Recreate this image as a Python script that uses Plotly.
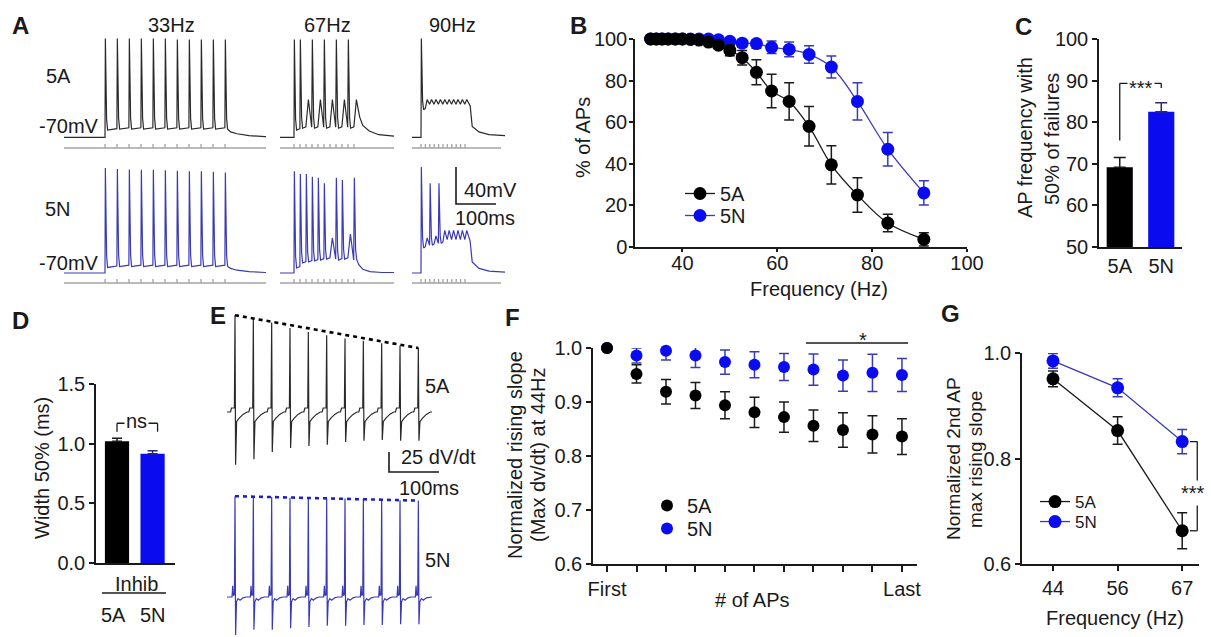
import plotly.graph_objects as go

W, H = 1211, 637
FONT = "Arial, Liberation Sans, sans-serif"
INK = "#1a1a1a"
BLUE = "#0b0bf0"
BLUE_LINE = "#3a3ab8"
TRACE_BLACK = "#2a2a2a"
TRACE_BLUE = "#3a3ab6"
STIM_GRAY = "#a3a3a3"

# ---------------- data ----------------
groups = ["5A", "5N"]

# A: example traces (mV above rest for each stimulus pulse)
a33_5a_peaks = [107, 107, 107, 107, 107, 107, 106, 106, 106, 106, 106]
a33_5a_troughs = [8, 9, 9, 9, 9, 9, 9, 9, 9, 9, 9]
a33_5n_peaks = [113.5, 112.5, 112, 111.5, 111.5, 111, 110.5, 110, 110, 109.5, 108.5]
a33_5n_troughs = [6, 7, 7, 7, 7, 7, 7, 7, 7, 7, 7]
a67_5a_peaks = [106, 106, 41, 106, 41, 106, 41, 106, 41, 106, 41]
a67_5a_troughs = [8, 10, 11, 10, 11, 10, 11, 10, 11, 10, 22]
a67_5n_peaks = [110, 107, 107, 104, 103, 97, 38, 103, 100.5, 42, 103]
a67_5n_troughs = [5.4, 10.8, 11.9, 13, 14, 15, 15, 14, 15, 14, 15]
a90_5a_peaks = [107, 41, 41, 41, 41, 41, 41, 41, 41, 41, 41]
a90_5a_troughs = [30, 36, 36, 36, 36, 36, 36, 36, 36, 36, 36]
a90_5n_peaks = [114.6, 38, 97, 40, 97, 46, 46, 46, 46, 46, 46]
a90_5n_troughs = [27, 30, 30, 32, 32, 36, 36, 36, 36, 36, 36]

# B: % of APs vs stimulation frequency
b_freq = [33.3, 34.5, 35.7, 37.0, 38.5, 40.0, 41.7, 43.5, 45.5, 47.6,
          50.0, 52.6, 55.6, 58.8, 62.5, 66.7, 71.4, 76.9, 83.3, 90.9]
b_5a = [100, 100, 100, 100, 100, 100, 99.8, 99.5, 98.5, 97,
        94.5, 91, 84, 75, 70, 58, 39.5, 25, 11.5, 3.7]
b_5a_err = [0, 0, 0, 0, 0, 0, 0.3, 0.5, 1, 1.5,
            2.5, 3.5, 6, 8, 9, 9.5, 9.2, 8.3, 4.2, 3.2]
b_5n = [100, 100, 100, 100, 100, 100, 100, 100, 100, 99.6,
        98.9, 98, 97.8, 96, 95, 92.6, 86.5, 70, 47, 26]
b_5n_err = [0, 0, 0, 0, 0, 0, 0, 0, 0, 0.8,
            1.2, 2, 2.2, 3, 3.5, 4.2, 5.3, 9, 8, 5.8]

# C: AP frequency with 50% failures
c_vals = [69.2, 82.5]
c_err = [2.3, 2.2]

# D: AP width at 50%
d_vals = [1.02, 0.915]
d_err = [0.025, 0.025]

# E: dV/dt traces (peak / trough per AP)
e_5a_peaks = [121, 116, 112, 105, 100, 96, 92, 89, 86, 83, 80]
e_5a_troughs = [-66, -59, -50, -45, -42.5, -41, -37.5, -36, -35, -36, -36]
e_5n_peaks = [126, 125, 125, 124, 124, 123, 123, 122.5, 122, 121, 120.5]
e_5n_troughs = [-47.5, -41, -41, -39, -37.5, -36, -36, -35, -35, -34, -34]

# F: normalized rising slope per AP
f_ap = [1, 2, 3, 4, 5, 6, 7, 8, 9, 10, 11]
f_ticktext = ["First", "", "", "", "", "", "", "", "", "", "Last"]
f_5a = [1.0, 0.952, 0.919, 0.912, 0.894, 0.881, 0.872, 0.856, 0.848, 0.840, 0.836]
f_5a_err = [0, 0.017, 0.0225, 0.024, 0.025, 0.028, 0.028, 0.029, 0.032, 0.0345, 0.033]
f_5n = [1.0, 0.986, 0.995, 0.986, 0.974, 0.969, 0.965, 0.960, 0.949, 0.954, 0.950]
f_5n_err = [0, 0.014, 0.017, 0.022, 0.0225, 0.024, 0.025, 0.029, 0.029, 0.0345, 0.0305]

# G: normalized 2nd AP max rising slope
g_freq = ["44", "56", "67"]
g_5a = [0.951, 0.853, 0.663]
g_5a_err = [0.015, 0.026, 0.034]
g_5n = [0.985, 0.934, 0.832]
g_5n_err = [0.014, 0.017, 0.023]


# ---------------- helpers ----------------
def vm_wave(onset, period, peaks, troughs, tail_t, tail_v, dur):
    t = [0.0, onset]
    v = [0.0, 0.0]
    n = len(peaks)
    for i in range(n):
        ti = onset + i * period
        pk, tr = peaks[i], troughs[i]
        if pk >= 60:
            t += [ti + 0.9, ti + 2.2, ti + 4.0, ti + 6.5]
            v += [pk, tr + 0.45 * (pk - tr), tr + 0.12 * (pk - tr), tr]
            if i < n - 1:
                t.append(ti + period - 0.3)
                v.append(tr + 1.5)
        else:
            t += [ti + 0.4 * period, ti + 0.95 * period]
            v += [pk, tr]
    last = onset + (n - 1) * period
    t += [last + x for x in tail_t]
    v += list(tail_v)
    t.append(dur)
    v.append(tail_v[-1])
    return t, v


def dvdt_wave(first, period, peaks, troughs, kind, dur):
    t = [0.0]
    v = [0.0]
    for i in range(len(peaks)):
        ti = first + i * period
        if kind == "A":
            pre = [(-9, 0), (-7, 5), (-1.2, 5)]
            post = [(1.2, troughs[i]), (3.2, -12), (8, -8), (16, -3), (24, 0)]
        else:
            pre = [(-6, 0), (-4.6, 14), (-3.4, 2), (-1.2, 3)]
            post = [(1.2, troughs[i]), (3, -6), (6, -2), (10, -4), (16, -1), (22, 0)]
        for dt, vv in pre:
            t.append(ti + dt); v.append(vv)
        t.append(ti); v.append(peaks[i])
        for dt, vv in post:
            t.append(ti + dt); v.append(vv)
    t.append(dur); v.append(0)
    return t, v


def ann(text, xpx, ypx, size=20, bold=False, angle=0, xanchor="center", color=INK, bg=None):
    d = dict(text=f"<b>{text}</b>" if bold else text, x=xpx / W, y=1 - ypx / H,
             xref="paper", yref="paper", showarrow=False, textangle=angle,
             font=dict(size=size, family=FONT, color=color),
             xanchor=xanchor, yanchor="middle")
    if bg:
        d["bgcolor"] = bg
    return d


fig = go.Figure()

# ---------------- Panel A traces ----------------
A_ROWS = {"5A": (170.3, 158.9, TRACE_BLACK), "5N": (23.8, 13.0, TRACE_BLUE)}
a_specs = [
    ("5A", 22.5, 102.5, 30, a33_5a_peaks, a33_5a_troughs, [14, 30, 60, 100], [6, 4, 2, 1], 505),
    ("5N", 22.5, 102.5, 30, a33_5n_peaks, a33_5n_troughs, [14, 30, 60, 100], [5, 3, 1.5, 0.5], 505),
    ("5A", 562.5, 35, 15, a67_5a_peaks, a67_5a_troughs, [22, 38, 62, 95], [13, 7, 3, 1.5], 285),
    ("5N", 562.5, 35, 15, a67_5n_peaks, a67_5n_troughs, [12, 22, 40, 70], [9, 4, 1.5, 0.5], 285),
    ("5A", 892.5, 22.5, 11, a90_5a_peaks, a90_5a_troughs, [13, 18, 35, 60, 100], [34, 12, 6, 3, 2], 222.5),
    ("5N", 892.5, 22.5, 11, a90_5n_peaks, a90_5n_troughs, [13, 18, 35, 60, 100], [34, 12, 5, 2, 1], 222.5),
]
for row, t0, onset, period, pk, tr, tt, tv, dur in a_specs:
    base, stim, col = A_ROWS[row]
    t, v = vm_wave(onset, period, pk, tr, tt, tv, dur)
    fig.add_trace(go.Scatter(x=[t0 + x for x in t], y=[base + y for y in v], mode="lines",
                             line=dict(color=col, width=1.2), xaxis="x", yaxis="y",
                             showlegend=False, hoverinfo="skip"))
    sx = [t0, t0 + dur, None]
    sy = [stim, stim, None]
    for i in range(len(pk)):
        ti = t0 + onset + i * period
        sx += [ti, ti, None]
        sy += [stim, stim + 4.3, None]
    fig.add_trace(go.Scatter(x=sx, y=sy, mode="lines", line=dict(color=STIM_GRAY, width=1.3),
                             xaxis="x", yaxis="y", showlegend=False, hoverinfo="skip"))
fig.add_trace(go.Scatter(x=[1002.5, 1002.5, 1102.5], y=[138.4, 98.4, 98.4], mode="lines",
                         line=dict(color=INK, width=1.6), xaxis="x", yaxis="y",
                         showlegend=False, hoverinfo="skip"))

# ---------------- Panel B ----------------
fig.add_trace(go.Scatter(x=b_freq, y=b_5n, name="5N", mode="lines+markers",
                         line=dict(color=BLUE_LINE, width=1.3, shape="spline", smoothing=1.0),
                         marker=dict(color=BLUE, size=13),
                         error_y=dict(type="data", array=b_5n_err, color=BLUE_LINE, thickness=1.5, width=5),
                         xaxis="x2", yaxis="y2", cliponaxis=False, legend="legend2"))
fig.add_trace(go.Scatter(x=b_freq, y=b_5a, name="5A", mode="lines+markers",
                         line=dict(color=INK, width=1.3, shape="spline", smoothing=1.0),
                         marker=dict(color="#000000", size=13),
                         error_y=dict(type="data", array=b_5a_err, color=INK, thickness=1.5, width=5),
                         xaxis="x2", yaxis="y2", cliponaxis=False, legend="legend"))

# ---------------- Panel C ----------------
fig.add_trace(go.Bar(x=[0], y=[c_vals[0]], width=0.63, marker=dict(color="#000000", line=dict(width=0)),
                     error_y=dict(type="data", array=[c_err[0]], arrayminus=[0], symmetric=False,
                                  color=INK, thickness=1.5, width=6),
                     xaxis="x3", yaxis="y3", showlegend=False))
fig.add_trace(go.Bar(x=[1], y=[c_vals[1]], width=0.63, marker=dict(color=BLUE, line=dict(width=0)),
                     error_y=dict(type="data", array=[c_err[1]], arrayminus=[0], symmetric=False,
                                  color="#2a2a6a", thickness=1.5, width=6),
                     xaxis="x3", yaxis="y3", showlegend=False))

# ---------------- Panel D ----------------
fig.add_trace(go.Bar(x=[0], y=[d_vals[0]], width=0.68, marker=dict(color="#000000", line=dict(width=0)),
                     error_y=dict(type="data", array=[d_err[0]], arrayminus=[0], symmetric=False,
                                  color=INK, thickness=1.5, width=5),
                     xaxis="x4", yaxis="y4", showlegend=False))
fig.add_trace(go.Bar(x=[1], y=[d_vals[1]], width=0.68, marker=dict(color=BLUE, line=dict(width=0)),
                     error_y=dict(type="data", array=[d_err[1]], arrayminus=[0], symmetric=False,
                                  color="#2a2a6a", thickness=1.5, width=5),
                     xaxis="x4", yaxis="y4", showlegend=False))

# ---------------- Panel E ----------------
E_PERIOD = 36.67
for kind, base, pk, tr, col in [("A", 281.25, e_5a_peaks, e_5a_troughs, TRACE_BLACK),
                                ("N", 50.0, e_5n_peaks, e_5n_troughs, TRACE_BLUE)]:
    t, v = dvdt_wave(16, E_PERIOD, pk, tr, kind, 410)
    fig.add_trace(go.Scatter(x=[14 + x for x in t], y=[base + y for y in v], mode="lines",
                             line=dict(color=col, width=1.2), xaxis="x5", yaxis="y5",
                             showlegend=False, hoverinfo="skip"))
    n = len(pk)
    fig.add_trace(go.Scatter(x=[14 + 16, 14 + 16 + (n - 1) * E_PERIOD],
                             y=[base + pk[0], base + pk[-1]], mode="lines",
                             line=dict(color="#000000" if kind == "A" else "#2020c0", width=2.6, dash="4px,4px"),
                             xaxis="x5", yaxis="y5", showlegend=False, hoverinfo="skip"))
fig.add_trace(go.Scatter(x=[338, 338, 438], y=[231.25, 206.25, 206.25], mode="lines",
                         line=dict(color=INK, width=1.6), xaxis="x5", yaxis="y5",
                         showlegend=False, hoverinfo="skip"))

# ---------------- Panel F ----------------
fig.add_trace(go.Scatter(x=f_ap, y=f_5n, name="5N", mode="markers",
                         marker=dict(color=BLUE, size=12),
                         error_y=dict(type="data", array=f_5n_err, color=BLUE_LINE, thickness=1.5, width=5),
                         xaxis="x6", yaxis="y6", cliponaxis=False, legend="legend4"))
fig.add_trace(go.Scatter(x=f_ap, y=f_5a, name="5A", mode="markers",
                         marker=dict(color="#000000", size=12),
                         error_y=dict(type="data", array=f_5a_err, color=INK, thickness=1.5, width=5),
                         xaxis="x6", yaxis="y6", cliponaxis=False, legend="legend3"))

# ---------------- Panel G ----------------
g_x = [0, 1, 2]
fig.add_trace(go.Scatter(x=g_x, y=g_5a, name="5A", mode="lines+markers",
                         line=dict(color=INK, width=1.3), marker=dict(color="#000000", size=13),
                         error_y=dict(type="data", array=g_5a_err, color=INK, thickness=1.5, width=5),
                         xaxis="x7", yaxis="y7", cliponaxis=False, legend="legend5"))
fig.add_trace(go.Scatter(x=g_x, y=g_5n, name="5N", mode="lines+markers",
                         line=dict(color=BLUE_LINE, width=1.3), marker=dict(color=BLUE, size=13),
                         error_y=dict(type="data", array=g_5n_err, color=BLUE_LINE, thickness=1.5, width=5),
                         xaxis="x7", yaxis="y7", cliponaxis=False, legend="legend6"))

# ---------------- layout ----------------
def xd(a, b):
    return [a / W, b / W]


def yd(top, bottom):
    return [1 - bottom / H, 1 - top / H]


ax = dict(showline=True, linecolor=INK, linewidth=1.5, ticks="outside", ticklen=5, tickwidth=1.5,
          tickcolor=INK, showgrid=False, zeroline=False, fixedrange=True, automargin=False,
          tickfont=dict(size=20, color=INK, family=FONT))
hid = dict(visible=False, showgrid=False, zeroline=False, fixedrange=True, automargin=False)

shapes = []
def seg(xref, yref, xs, ys, color=INK, width=1.3):
    for i in range(len(xs) - 1):
        shapes.append(dict(type="line", xref=xref, yref=yref, x0=xs[i], y0=ys[i], x1=xs[i + 1], y1=ys[i + 1],
                           line=dict(color=color, width=width)))

def pseg(xs, ys, width=1.3):
    seg("paper", "paper", [x / W for x in xs], [1 - y / H for y in ys], width=width)

seg("x3", "y3", [0, 0, 1, 1], [75.6, 89.35, 89.35, 88.2])          # C bracket
seg("x4", "y4", [0, 0, 1.14, 1.14], [1.10, 1.171, 1.171, 1.10])     # D bracket
pseg([102, 166], [593, 593])                                         # D "Inhib" underline
pseg([806, 908], [343, 343])                                         # F significance line
seg("x7", "y7", [2.12, 2.233, 2.233, 2.12], [0.832, 0.832, 0.663, 0.663])  # G bracket

annotations = [
    ann("A", 21, 25, 24, True), ann("B", 578, 25, 24, True), ann("C", 1023, 27, 24, True),
    ann("D", 21, 320, 24, True), ann("E", 218, 315, 24, True), ann("F", 512, 317, 24, True),
    ann("G", 950, 313, 24, True),
    ann("33Hz", 171, 25), ann("67Hz", 327, 25), ann("90Hz", 452, 25),
    ann("5A", 58, 76), ann("-70mV", 69, 126), ann("5N", 58, 209), ann("-70mV", 69, 263),
    ann("40mV", 462, 190, xanchor="left"), ann("100ms", 485, 218),
    ann("% of APs", 583, 138, angle=-90), ann("Frequency (Hz)", 819, 289),
    ann("AP frequency with", 1025, 138, angle=-90),
    ann("50% of failures", 1052, 139, angle=-90),
    ann("***", 1141, 88, bg="white"),
    ann("Width 50% (ms)", 42, 468, angle=-90),
    ann("ns", 136, 421, bg="white"),
    ann("Inhib", 136, 584), ann("5A", 113, 615), ann("5N", 153, 615),
    ann("5A", 423, 386, xanchor="left"), ann("5N", 423, 560, xanchor="left"),
    ann("25 dV/dt", 399, 457, xanchor="left"), ann("100ms", 429, 488),
    ann("Normalized rising slope", 515, 455, angle=-90),
    ann("(Max dv/dt) at 44Hz", 538, 455, angle=-90),
    ann("# of APs", 752, 600), ann("*", 863, 340),
    ann("Normalized 2nd AP", 954, 459, size=19, angle=-90),
    ann("max rising slope", 976, 459, size=19, angle=-90),
    ann("Frequency (Hz)", 1115, 618),
    ann("***", 1193, 493, bg="white"),
]

leg = dict(xanchor="left", yanchor="top", bgcolor="rgba(0,0,0,0)", borderwidth=0,
           font=dict(size=20, family=FONT, color=INK), itemwidth=30, tracegroupgap=0)
leg_g = dict(leg, font=dict(size=17, family=FONT, color=INK))

fig.update_layout(
    width=W, height=H, margin=dict(l=0, r=0, t=0, b=0, pad=0, autoexpand=False),
    autosize=False,
    paper_bgcolor="white", plot_bgcolor="white",
    font=dict(family=FONT, size=20, color=INK),
    barmode="overlay", hovermode=False, showlegend=True,
    xaxis=dict(hid, domain=xd(55, 510), range=[0, 1137.5], anchor="y"),
    yaxis=dict(hid, domain=yd(30, 295), range=[0, 286.49], anchor="x"),
    xaxis2=dict(ax, domain=xd(635, 967), range=[30, 100], tickvals=[40, 60, 80, 100], ticklen=3,
                ticklabelstandoff=-6, anchor="y2"),
    yaxis2=dict(ax, domain=yd(39, 247), range=[0, 100], tickvals=[0, 20, 40, 60, 80, 100], ticklen=4,
                ticklabelstandoff=-2, anchor="x2"),
    xaxis3=dict(ax, domain=xd(1099, 1182), range=[-0.5, 1.5], tickvals=[0, 1], ticktext=groups, ticks="", anchor="y3"),
    yaxis3=dict(ax, domain=yd(39, 247), range=[50, 100], tickvals=[50, 60, 70, 80, 90, 100], anchor="x3"),
    xaxis4=dict(ax, domain=xd(96, 175), range=[-0.59, 1.63], showticklabels=False, ticks="", anchor="y4"),
    yaxis4=dict(ax, domain=yd(384, 563), range=[0, 1.5], tickvals=[0, 0.5, 1.0, 1.5], tickformat=".1f", anchor="x4"),
    xaxis5=dict(hid, domain=xd(220, 440), range=[0, 440], anchor="y5"),
    yaxis5=dict(hid, domain=yd(305, 637), range=[0, 415], anchor="x5"),
    xaxis6=dict(ax, domain=xd(593, 917), range=[0.525, 11.51], tickvals=f_ap, ticktext=f_ticktext, ticklen=6, anchor="y6"),
    yaxis6=dict(ax, domain=yd(348, 564), range=[0.6, 1.0], tickvals=[0.6, 0.7, 0.8, 0.9, 1.0], tickformat=".1f", anchor="x6"),
    xaxis7=dict(ax, domain=xd(1022, 1199), range=[-0.48, 2.26], tickvals=g_x, ticktext=g_freq, anchor="y7"),
    yaxis7=dict(ax, domain=yd(353, 564), range=[0.6, 1.0], tickvals=[0.6, 0.8, 1.0], tickformat=".1f", anchor="x7"),
    legend=dict(leg, x=680 / W, y=1 - 174 / H),
    legend2=dict(leg, x=680 / W, y=1 - 196 / H),
    legend3=dict(leg, x=647 / W, y=1 - 486 / H),
    legend4=dict(leg, x=647 / W, y=1 - 509 / H),
    legend5=dict(leg_g, x=1035 / W, y=1 - 484 / H),
    legend6=dict(leg_g, x=1035 / W, y=1 - 504 / H),
    shapes=shapes, annotations=annotations,
)

fig.write_html("out.html", config={"displayModeBar": False},
               post_script="document.body.style.margin='0px';document.body.style.overflow='hidden';")
